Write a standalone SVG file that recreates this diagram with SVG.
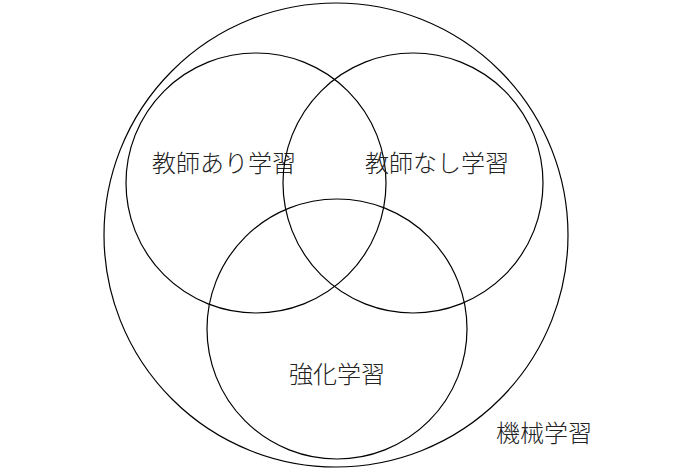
<svg xmlns="http://www.w3.org/2000/svg" width="680" height="470" viewBox="0 0 680 470">
<style>
.c{fill:none;stroke:#000;stroke-width:1.2}
.t{font-family:"Noto Sans CJK JP","Noto Sans",sans-serif;font-size:24px;fill:#222;text-anchor:middle;font-weight:300}
</style>
<rect width="680" height="470" fill="#fff"/>
<g id="ml"><circle class="c" cx="336" cy="235" r="232"/><text class="t" x="544" y="442">機械学習</text></g>
<g id="supervised"><circle class="c" cx="256" cy="183" r="130"/><text class="t" x="224" y="172">教師あり学習</text></g>
<g id="unsupervised"><circle class="c" cx="413" cy="183" r="130"/><text class="t" x="437" y="172">教師なし学習</text></g>
<g id="reinforcement"><circle class="c" cx="337" cy="329" r="130"/><text class="t" x="337" y="383">強化学習</text></g>
<g id="connectors"></g>
</svg>
